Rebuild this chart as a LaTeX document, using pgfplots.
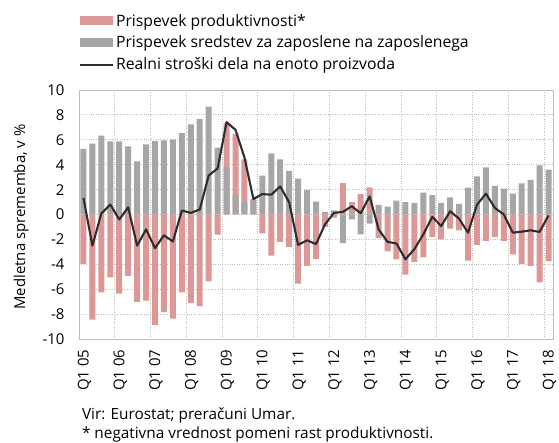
\documentclass[border=0pt]{standalone}
\usepackage{pgfplots}
\pgfplotsset{compat=1.18}
\usepackage{pgfplotstable}
\usepackage{fontspec}
\setmainfont{Open Sans}
\definecolor{pinkc}{RGB}{220,152,150}
\definecolor{grayc}{RGB}{166,166,166}
\definecolor{linec}{RGB}{45,45,45}
\definecolor{gridc}{RGB}{190,190,190}
\pgfplotstableread{
i g p l
0 5.27 -3.97 1.32
1 5.70 -8.45 -2.50
2 6.33 -6.25 0.08
3 5.88 -5.06 0.80
4 5.88 -6.36 -0.40
5 5.48 -4.93 0.58
6 4.26 -7.02 -2.50
7 5.64 -6.91 -1.19
8 5.90 -8.87 -2.70
9 5.96 -7.84 -1.67
10 6.01 -8.37 -2.17
11 6.54 -6.25 0.32
12 7.23 -7.10 0.13
13 7.68 -7.36 0.40
14 8.66 -5.38 3.13
15 5.38 -1.62 3.70
16 3.76 3.55 7.42
17 1.56 4.93 6.80
18 0.98 3.44 4.58
19 1.14 0.10 1.25
20 3.13 -1.51 1.64
21 4.90 -3.31 1.59
22 4.42 -2.20 2.25
23 3.50 -2.60 0.98
24 2.89 -5.56 -2.44
25 1.96 -4.13 -2.07
26 1.03 -3.58 -2.38
27 0.19 -1.00 -0.80
28 0.34 -0.26 0.13
29 -2.30 2.52 0.21
30 -0.40 1.00 0.66
31 -1.59 1.64 0.10
32 -0.74 2.17 1.46
33 0.77 -1.88 -1.19
34 0.64 -2.97 -2.20
35 1.11 -3.60 -2.33
36 1.00 -4.82 -3.60
37 0.93 -3.81 -2.78
38 1.75 -3.44 -1.59
39 1.56 -1.80 -0.19
40 0.93 -1.99 -0.93
41 1.38 -1.14 0.26
42 0.85 -1.27 -0.34
43 2.15 -3.71 -1.46
44 3.07 -2.44 0.79
45 3.79 -2.12 1.67
46 2.30 -1.80 0.53
47 2.07 -2.12 0.00
48 1.67 -3.20 -1.46
49 2.49 -3.97 -1.38
50 2.78 -4.13 -1.27
51 3.95 -5.46 -1.40
52 3.60 -3.76 -0.08
}\data
\begin{document}
\begin{tikzpicture}
\useasboundingbox (0,0) rectangle (559bp,443bp);
\begin{axis}[
  at={(79bp,104bp)}, anchor=south west,
  scale only axis, width=474bp, height=249bp,
  xmin=-0.5, xmax=52.5, ymin=-10, ymax=10,
  ytick={-10,-8,...,10},
  xtick={0,4,...,52},
  xticklabels={Q1 05,Q1 06,Q1 07,Q1 08,Q1 09,Q1 10,Q1 11,Q1 12,Q1 13,Q1 14,Q1 15,Q1 16,Q1 17,Q1 18},
  xticklabel style={xshift=1bp, yshift=-7bp, rotate=90, anchor=east, font=\fontsize{15}{17}\selectfont},
  yticklabel style={font=\fontsize{15}{17}\selectfont, xshift=-11bp},
  /pgf/number format/assume math mode=true,
  major tick length=0pt,
  ymajorgrids,
  grid style={gridc, dotted, line width=0.8pt},
  extra x ticks={3.5,7.5,...,51.5},
  extra x tick labels={},
  extra x tick style={grid=major, major tick length=0pt},
  axis line style={draw=gridc, line width=0.9pt},
  ylabel={Medletna sprememba, v \%},
  every axis y label/.style={at={(axis description cs:-0.122,0.49)}, rotate=90, anchor=center,
    font=\fontsize{15}{17}\selectfont},
  legend style={at={(axis description cs:0,1.313)}, anchor=north west,
    draw=none, fill=none, inner sep=0pt, outer sep=0pt,
    font=\fontsize{15.8}{18}\selectfont, row sep=4.5pt,
    /tikz/every even column/.append style={column sep=3pt}},
  legend cell align=left,
  clip=false,
]
\addplot[ybar, bar width=6bp, bar shift=0pt, fill=pinkc, draw=none,
  legend image code/.code={\fill[pinkc] (0bp,-4.5bp) rectangle (33bp,4.5bp);}]
  table[x=i, y expr={\thisrow{p}+and(\thisrow{p}>0,\thisrow{g}>0)*\thisrow{g}}]{\data};
\addlegendentry{Prispevek produktivnosti*}
\addplot[ybar, bar width=6bp, bar shift=0pt, fill=grayc, draw=none,
  legend image code/.code={\fill[grayc] (0bp,-4.5bp) rectangle (33bp,4.5bp);}]
  table[x=i, y=g]{\data};
\addlegendentry{Prispevek sredstev za zaposlene na zaposlenega}
\addplot[linec, line width=2.1pt, sharp plot, mark=none, line join=round,
  legend image code/.code={\draw[linec, line width=2.1pt] (0bp,0bp) -- (33bp,0bp);}]
  table[x=i, y=l]{\data};
\addlegendentry{Realni stroški dela na enoto proizvoda}
\node[anchor=base west, font=\fontsize{15.4}{17}\selectfont, inner sep=0pt] at (axis description cs:0.006,-0.325) {Vir: Eurostat; preračuni Umar.};
\node[anchor=base west, font=\fontsize{15.4}{17}\selectfont, inner sep=0pt] at (axis description cs:0.006,-0.398) {* negativna vrednost pomeni rast produktivnosti.};
\end{axis}
\end{tikzpicture}
\end{document}
